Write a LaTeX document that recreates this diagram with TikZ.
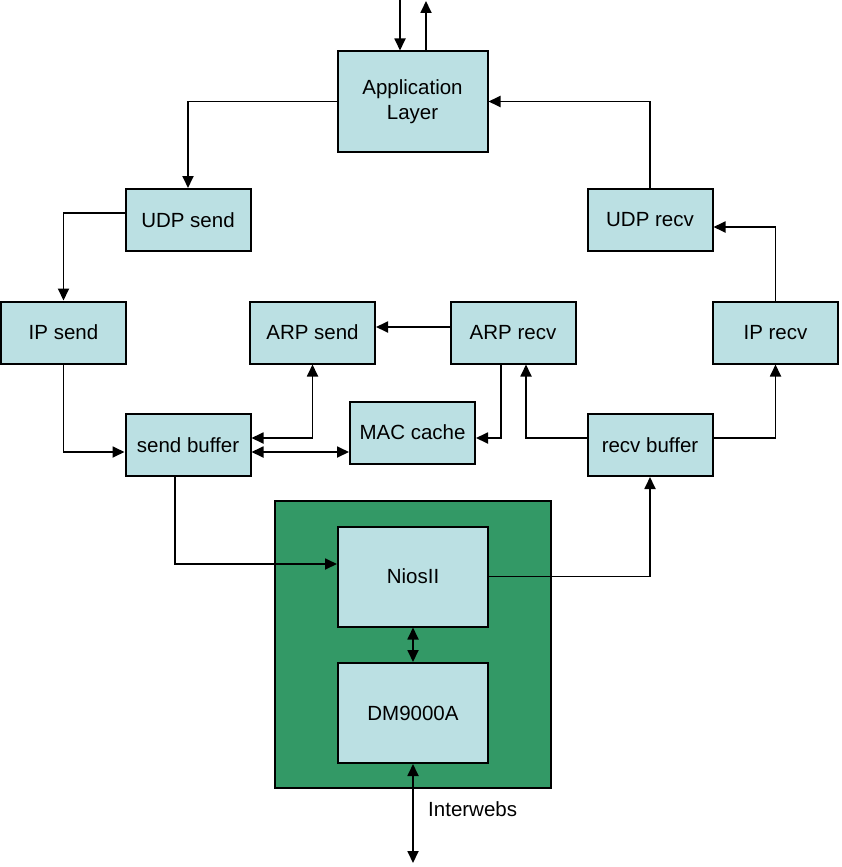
\documentclass[tikz,border=0pt]{standalone}
\usepackage{fontspec}
\setmainfont{Liberation Sans}
\usetikzlibrary{arrows.meta}
\definecolor{boxfill}{RGB}{187,224,227}
\definecolor{chipgreen}{RGB}{51,153,102}
\begin{document}
\begin{tikzpicture}[x=1pt,y=-1pt,
  box/.style={draw=black, line width=2pt, fill=boxfill, inner sep=0pt,
    font=\fontsize{20.5}{25}\selectfont, align=center},
  small/.style={box, minimum width=125pt, minimum height=62pt},
  big/.style={box, minimum width=150pt, minimum height=100pt},
  conn/.style={line width=1.8pt, -{Triangle[length=12pt,width=11pt]}},
  bconn/.style={line width=1.8pt, {Triangle[length=12pt,width=11pt]}-{Triangle[length=12pt,width=11pt]}},
  plain/.style={line width=1.8pt}]
\useasboundingbox (0,0) rectangle (841,867);
\fill[white] (0,0) rectangle (841,867);
\draw[line width=2pt, fill=chipgreen] (275,501) rectangle (551,788);
\node[big] (app) at (412.5,101.5) {Application\\Layer};
\node[small] (udps) at (188,220) {UDP send};
\node[small] (udpr) at (650,220) {UDP recv};
\node[small] (ips) at (63.5,332.5) {IP send};
\node[small] (arps) at (312.5,332.5) {ARP send};
\node[small] (arpr) at (513,332.5) {ARP recv};
\node[small] (ipr) at (775.5,332.5) {IP recv};
\node[small] (sb) at (188,445) {send buffer};
\node[small] (mac) at (412.5,432.5) {MAC cache};
\node[small] (rb) at (650,445) {recv buffer};
\node[big] (nios) at (413,576.5) {NiosII};
\node[big] (dm) at (413,713) {DM9000A};
\node[anchor=west, font=\fontsize{20.5}{25}\selectfont, inner sep=0pt] (net) at (428,809) {Interwebs};
\coordinate (tin) at (400,0);
\coordinate (tout) at (426,1);
\coordinate (bot) at (413,863);
% top
\draw[conn] (tin) -- (tin |- app.north);
\draw[conn] (tout |- app.north) -- (tout);
% send path
\draw[conn] (app.west) -| (udps.north);
\draw[conn] ([yshift=7pt]udps.west) -| (ips.north);
\draw[conn] (ips.south) |- ([yshift=-7pt]sb.west);
\draw[conn] ([xshift=-13pt]sb.south) |- ([yshift=12.5pt]nios.west);
% ARP
\draw[conn] ([yshift=5.5pt]arpr.west) -- ([yshift=5.5pt]arps.east);
\draw[bconn] ([yshift=7pt]sb.east) -| (arps.south);
\draw[bconn] ([yshift=-7pt]sb.east) -- ([yshift=-7pt]sb.east -| mac.west);
\draw[conn] ([xshift=-12pt]arpr.south) |- ([yshift=-5.5pt]mac.east);
\draw[conn] ([yshift=7pt]rb.west) -| ([xshift=13pt]arpr.south);
% receive path
\draw[conn] (nios.east) -| (rb.south);
\draw[conn] ([yshift=7pt]rb.east) -| (ipr.south);
\draw[conn] (ipr.north) |- ([yshift=-7pt]udpr.east);
\draw[conn] (udpr.north) |- (app.east);
% chip
\draw[bconn] (nios.south) -- (dm.north);
\draw[bconn] (dm.south) -- (bot);
\end{tikzpicture}
\end{document}
